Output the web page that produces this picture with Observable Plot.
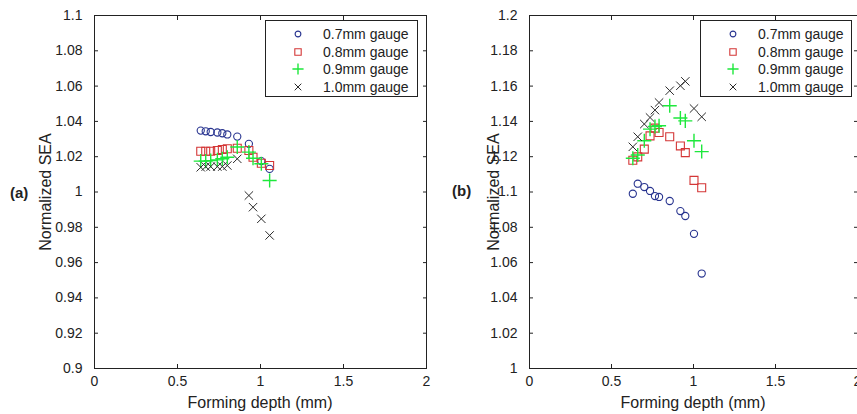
<!DOCTYPE html>
<html>
<head>
<meta charset="utf-8">
<script src="https://cdn.jsdelivr.net/npm/d3@7"></script>
<script src="https://cdn.jsdelivr.net/npm/@observablehq/plot@0.6"></script>
<style>
  html, body { margin: 0; padding: 0; background: #fff; }
  #wrap { position: relative; width: 857px; height: 414px; overflow: hidden; background: #fff;
          font-family: "Liberation Sans", Arial, sans-serif; color: #222; }
  .panel { position: absolute; top: 0; }
  .ylab { position: absolute; white-space: nowrap; font-size: 16px; transform: translate(-50%, -50%) rotate(-90deg); }
  .xlab { position: absolute; white-space: nowrap; font-size: 16px; transform: translate(-50%, -50%); }
  .tag { position: absolute; font-weight: bold; font-size: 15px; transform: translate(0, -50%); }
  .legend { position: absolute; border: 1px solid #222; background: #fff; box-sizing: border-box; }
  .legend .row { position: absolute; left: 0; height: 18px; font-size: 14px; line-height: 18px; }
  .legend svg { position: absolute; top: 2px; }
  .legend span { position: absolute; top: 0; }
</style>
</head>
<body>
<div id="wrap"></div>
<script>
// ---------- data ----------
const gauges = ["0.7mm gauge", "0.8mm gauge", "0.9mm gauge", "1.0mm gauge"];

// Panel (a): forming depth (mm)
const depthA = [0.64, 0.67, 0.70, 0.74, 0.77, 0.80, 0.86, 0.93, 0.955, 1.005, 1.055];
const seaA07 = [1.0348, 1.0344, 1.0340, 1.0337, 1.0333, 1.0326, 1.0314, 1.0273, null, 1.0175, 1.0131];
const seaA08 = [1.0231, 1.0231, 1.0231, 1.0235, 1.0241, 1.0245, 1.0248, 1.0235, 1.0197, 1.0163, 1.0150];
const seaA09 = [1.0175, 1.0175, 1.0178, 1.0182, 1.0188, 1.0197, 1.0255, 1.0226, 1.0191, 1.0160, 1.0065];
const seaA10 = [1.0140, 1.0144, 1.0144, 1.0144, 1.0144, 1.0150, 1.0188, 0.9980, 0.9914, 0.9848, 0.9754];

// Panel (b)
const depthB = [0.63, 0.66, 0.70, 0.735, 0.765, 0.79, 0.855, 0.92, 0.95, 1.003, 1.05];
const seaB07 = [1.0990, 1.1047, 1.1028, 1.1006, 1.0977, 1.0972, 1.0949, 1.0892, 1.0864, 1.0763, 1.0538];
const seaB08 = [1.1180, 1.1199, 1.1243, 1.1318, 1.1362, 1.1337, 1.1313, 1.1261, 1.1223, 1.1066, 1.1024];
const seaB09 = [1.1191, 1.1210, 1.1290, 1.1356, 1.1371, 1.1375, 1.1489, 1.1419, 1.1403, 1.1290, 1.1229];
const seaB10 = [1.1256, 1.1313, 1.1385, 1.1422, 1.1464, 1.1507, 1.1574, 1.1602, 1.1627, 1.1473, 1.1426];

// ticks
const xTicks = [0, 0.5, 1, 1.5, 2];
const xTickLabels = ["0", "0.5", "1", "1.5", "2"];
const yTicksA = [0.9, 0.92, 0.94, 0.96, 0.98, 1, 1.02, 1.04, 1.06, 1.08, 1.1];
const yTickLabelsA = ["0.9", "0.92", "0.94", "0.96", "0.98", "1", "1.02", "1.04", "1.06", "1.08", "1.1"];
const yTicksB = [1, 1.02, 1.04, 1.06, 1.08, 1.1, 1.12, 1.14, 1.16, 1.18, 1.2];
const yTickLabelsB = ["1", "1.02", "1.04", "1.06", "1.08", "1.1", "1.12", "1.14", "1.16", "1.18", "1.2"];

// ---------- styles ----------
const ink = "#222";
const styles = [
  {symbol: "circle", stroke: "#27338f", r: 3.6, strokeWidth: 1.1},
  {symbol: "square", stroke: "#d43636", r: 4.5, strokeWidth: 1.1},
  {symbol: "plus",   stroke: "#1ee83c", r: 4.6, strokeWidth: 1.4},
  {symbol: "times",  stroke: "#2a2a2a", r: 3.9, strokeWidth: 1.0}
];

function rows(depth, series) {
  const out = [];
  series.forEach((vals, g) => vals.forEach((v, i) => {
    if (v != null) out.push({depth: depth[i], sea: v, gauge: gauges[g]});
  }));
  return out;
}

function panel(depth, series, yTicks, yLabels, marginRight) {
  const data = rows(depth, series);
  return Plot.plot({
    width: 440, height: 414,
    marginLeft: 94, marginRight, marginTop: 15, marginBottom: 46,
    x: {domain: [0, 2]},
    y: {domain: [yTicks[0], yTicks[yTicks.length - 1]]},
    style: {fontFamily: '"Liberation Sans", Arial, sans-serif', fontSize: "14px", color: ink, background: "transparent", overflow: "visible"},
    marks: [
      Plot.axisX(xTicks, {anchor: "bottom", tickSize: -4, tickPadding: 12, stroke: ink,
        tickFormat: d => xTickLabels[xTicks.indexOf(d)], label: null}),
      Plot.axisX(xTicks, {anchor: "top", tickSize: -4, stroke: ink, tickFormat: () => "", label: null}),
      Plot.axisY(yTicks, {anchor: "left", tickSize: -4, tickPadding: 16, stroke: ink,
        tickFormat: d => yLabels[yTicks.indexOf(d)], label: null}),
      Plot.axisY(yTicks, {anchor: "right", tickSize: -4, stroke: ink, tickFormat: () => "", label: null}),
      ...gauges.map((g, k) => Plot.dot(data.filter(d => d.gauge === g), {
        x: "depth", y: "sea", symbol: styles[k].symbol, r: styles[k].r,
        stroke: styles[k].stroke, strokeWidth: styles[k].strokeWidth, fill: "none"
      })),
      Plot.frame({stroke: ink})
    ]
  });
}

function legendBox(left, top, width) {
  const box = document.createElement("div");
  box.className = "legend";
  Object.assign(box.style, {left: left + "px", top: top + "px", width: width + "px", height: "77px"});
  gauges.forEach((g, k) => {
    const row = document.createElement("div");
    row.className = "row";
    row.style.top = (4 + k * 17.7) + "px";
    row.style.width = width + "px";
    const s = styles[k];
    const sym = {circle: d3.symbolCircle, square: d3.symbolSquare, plus: d3.symbolPlus, times: d3.symbolTimes}[s.symbol];
    const rr = s.r * 0.8;
    const svg = d3.create("svg").attr("width", 14).attr("height", 14).style("left", "25px");
    svg.append("path").attr("transform", "translate(7,7)")
      .attr("d", d3.symbol(sym, Math.PI * rr * rr)())
      .attr("fill", "none").attr("stroke", s.stroke).attr("stroke-width", s.strokeWidth);
    row.appendChild(svg.node());
    const t = document.createElement("span");
    t.style.left = "57px";
    t.textContent = g;
    row.appendChild(t);
    box.appendChild(row);
  });
  return box;
}

function addText(cls, text, x, y) {
  const el = document.createElement("div");
  el.className = cls;
  el.textContent = text;
  el.style.left = x + "px";
  el.style.top = y + "px";
  wrap.appendChild(el);
}

const wrap = document.getElementById("wrap");

const pa = panel(depthA, [seaA07, seaA08, seaA09, seaA10], yTicksA, yTickLabelsA, 14);
pa.classList.add("panel"); pa.style.left = "0px";
wrap.appendChild(pa);

const pb = panel(depthB, [seaB07, seaB08, seaB09, seaB10], yTicksB, yTickLabelsB, 18);
pb.classList.add("panel"); pb.style.left = "435px";
wrap.appendChild(pb);

wrap.appendChild(legendBox(265, 20, 153));
wrap.appendChild(legendBox(700, 20, 152));

addText("ylab", "Normalized SEA", 46, 192);
addText("ylab", "Normalized SEA", 494, 192);
addText("xlab", "Forming depth (mm)", 260, 403);
addText("xlab", "Forming depth (mm)", 693, 403);
addText("tag", "(a)", 10, 192);
addText("tag", "(b)", 452, 190);
</script>
</body>
</html>
